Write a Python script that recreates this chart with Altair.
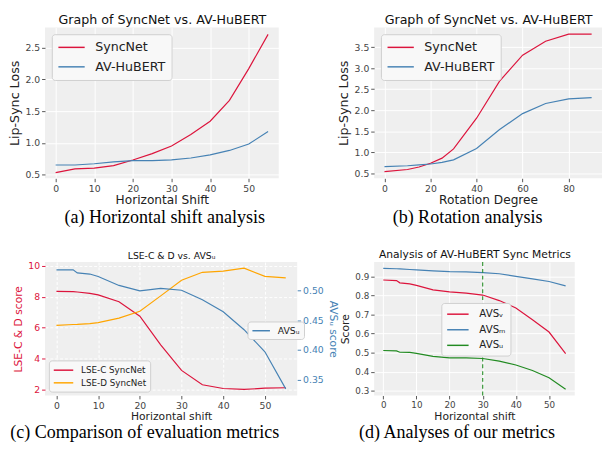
import altair as alt
import pandas as pd

# ---------------- data ----------------
# (a) horizontal shift
shift_a = [0, 5, 10, 15, 20, 25, 30, 35, 40, 45, 50, 55]
syncnet_a = [0.53, 0.59, 0.60, 0.64, 0.73, 0.83, 0.95, 1.13, 1.34, 1.67, 2.17, 2.71]
avhubert_a = [0.65, 0.65, 0.67, 0.70, 0.72, 0.72, 0.73, 0.76, 0.81, 0.88, 0.98, 1.18]

# (b) rotation
rot_b = [0, 10, 15, 20, 25, 30, 40, 50, 60, 70, 80, 90]
syncnet_b = [0.54, 0.59, 0.65, 0.74, 0.86, 1.08, 1.81, 2.69, 3.31, 3.64, 3.81, 3.81]
avhubert_b = [0.66, 0.68, 0.70, 0.72, 0.76, 0.82, 1.09, 1.54, 1.92, 2.16, 2.27, 2.30]

# (c) and (d) horizontal shift
shift_cd = [0, 4, 5, 8, 10, 15, 20, 25, 30, 35, 40, 45, 50, 55]
lse_c = [8.35, 8.33, 8.31, 8.22, 8.12, 7.68, 6.75, 4.90, 3.25, 2.32, 2.08, 2.02, 2.10, 2.13]
lse_d = [6.16, 6.21, 6.22, 6.27, 6.33, 6.62, 7.07, 8.06, 9.07, 9.58, 9.66, 9.85, 9.32, 9.22]
avs_U = [0.534, 0.534, 0.529, 0.527, 0.523, 0.508, 0.499, 0.503, 0.500, 0.484, 0.464, 0.434, 0.397, 0.335]

avs_v = [0.881, 0.878, 0.866, 0.861, 0.853, 0.829, 0.819, 0.812, 0.802, 0.773, 0.734, 0.672, 0.608, 0.495]
avs_m = [0.942, 0.940, 0.939, 0.936, 0.934, 0.929, 0.925, 0.924, 0.920, 0.914, 0.900, 0.887, 0.873, 0.850]
avs_u = [0.511, 0.509, 0.502, 0.501, 0.496, 0.480, 0.472, 0.472, 0.469, 0.455, 0.435, 0.406, 0.368, 0.308]
vline_d = [30]

names_ab = ["SyncNet", "AV-HuBERT"]
names_c = ["LSE-C SyncNet", "LSE-D SyncNet"]
name_cU = ["AVSᵤ"]
names_d = ["AVSᵥ", "AVSₘ", "AVSᵤ"]

titles = ["Graph of SyncNet vs. AV-HuBERT", "Graph of SyncNet vs. AV-HuBERT",
          "LSE-C & D vs. AVSᵤ", "Analysis of AV-HuBERT Sync Metrics"]
captions = ["(a) Horizontal shift analysis", "(b) Rotation analysis",
            "(c) Comparison of evaluation metrics", "(d) Analyses of our metrics"]

# ---------------- style ----------------
FONT = "DejaVu Sans"
SERIF = "Liberation Serif"
RED = "#dc143c"
BLUE = "#4682b4"
ORANGE = "#ffa500"
GREEN = "#228b22"
BG = "#efefef"


def melt(x, names, series):
    rows = []
    for name, vals in zip(names, series):
        for xi, yi in zip(x, vals):
            rows.append({"x": xi, "y": yi, "s": name})
    return pd.DataFrame(rows)


def ax(**kw):
    base = dict(domain=False, tickColor="#555", tickSize=3.5, tickWidth=1,
                labelColor="#444", labelFont=FONT, titleFont=FONT, titleColor="#222",
                titleFontWeight="normal", gridColor="white", gridWidth=1,
                labelPadding=2, labelFlush=False, labelOverlap=False)
    base.update(kw)
    return alt.Axis(**base)


def top_title(df, text, size, pad):
    return alt.Chart(df).mark_rule(opacity=0).encode(
        x=alt.X("x:Q", axis=alt.Axis(orient="top", title=text, labels=False, ticks=False,
                                     domain=False, grid=False, titleFont=FONT,
                                     titleFontSize=size, titleFontWeight="normal",
                                     titleColor="#111", titlePadding=pad)))


def caption(text, dx, offset):
    return alt.TitleParams(text=text, orient="bottom", anchor="middle", frame="group",
                           font=SERIF, fontSize=18.5, fontWeight="normal", color="#000",
                           dx=dx, offset=offset)


def legend(fs, unit, gap, rowpad, pad, **kw):
    return alt.Legend(title=None, fillColor="#f8f8f8", strokeColor="#cfcfcf", cornerRadius=3,
                      padding=pad, labelFont=FONT, labelFontSize=fs, labelColor="#222",
                      symbolType="M-1,0L3,0", symbolSize=unit * unit, symbolStrokeWidth=1.5,
                      labelOffset=unit + gap, rowPadding=rowpad, **kw)


SHIFT_DOM = [-2.75, 57.75]
ROT_DOM = [-4.5, 94.5]

# ---------------- panel a ----------------
dfa = melt(shift_a, names_ab, [syncnet_a, avhubert_a])
lines_a = alt.Chart(dfa).mark_line(strokeWidth=1.2).encode(
    x=alt.X("x:Q", scale=alt.Scale(domain=SHIFT_DOM, nice=False, zero=False),
            axis=ax(values=[0, 10, 20, 30, 40, 50], title="Horizontal Shift",
                    labelFontSize=9.5, titleFontSize=12.5, titlePadding=1)),
    y=alt.Y("y:Q", scale=alt.Scale(domain=[0.44, 2.82], nice=False, zero=False),
            axis=ax(values=[0.5, 1.0, 1.5, 2.0, 2.5], format=".1f", title="Lip-Sync Loss",
                    labelFontSize=9.5, titleFontSize=13, titlePadding=4)),
    color=alt.Color("s:N", scale=alt.Scale(domain=names_ab, range=[RED, BLUE]),
                    legend=legend(13, 13.5, 10, 5, 6, orient="top-left", offset=7)),
)
panel_a = alt.layer(lines_a, top_title(dfa, titles[0], 13, 1)).resolve_axis(
    x="independent").properties(width=240, height=155, title=caption(captions[0], 3, 2))

# ---------------- panel b ----------------
dfb = melt(rot_b, names_ab, [syncnet_b, avhubert_b])
lines_b = alt.Chart(dfb).mark_line(strokeWidth=1.2).encode(
    x=alt.X("x:Q", scale=alt.Scale(domain=ROT_DOM, nice=False, zero=False),
            axis=ax(values=[0, 20, 40, 60, 80], title="Rotation Degree",
                    labelFontSize=9.5, titleFontSize=12.5, titlePadding=1)),
    y=alt.Y("y:Q", scale=alt.Scale(domain=[0.38, 3.97], nice=False, zero=False),
            axis=ax(values=[0.5, 1.0, 1.5, 2.0, 2.5, 3.0, 3.5], format=".1f",
                    title="Lip-Sync Loss", labelFontSize=9.5, titleFontSize=13, titlePadding=4)),
    color=alt.Color("s:N", scale=alt.Scale(domain=names_ab, range=[RED, BLUE]),
                    legend=legend(13, 13.5, 10, 5, 6, orient="top-left", offset=7)),
)
panel_b = alt.layer(lines_b, top_title(dfb, titles[1], 13, 1)).resolve_axis(
    x="independent").properties(width=234, height=155, title=caption(captions[1], -21, 2))

# ---------------- panel c ----------------
dfc = melt(shift_cd, names_c, [lse_c, lse_d])
dfcu = melt(shift_cd, name_cU, [avs_U])
lines_c = alt.Chart(dfc).mark_line(strokeWidth=1.2).encode(
    x=alt.X("x:Q", scale=alt.Scale(domain=SHIFT_DOM, nice=False, zero=False),
            axis=ax(values=[0, 10, 20, 30, 40, 50], title="Horizontal shift",
                    labelFontSize=9.5, titleFontSize=11, titlePadding=1, gridDash=[3, 2])),
    y=alt.Y("y:Q", scale=alt.Scale(domain=[1.63, 10.24], nice=False, zero=False),
            axis=ax(values=[2, 4, 6, 8, 10], format="d", title="LSE-C & D score",
                    labelFontSize=9.5, titleFontSize=11, titlePadding=5, gridDash=[3, 2],
                    labelColor=RED, tickColor=RED, titleColor=RED)),
    color=alt.Color("s:N", scale=alt.Scale(domain=names_c, range=[RED, ORANGE]),
                    legend=legend(9, 10, 7, 2, 4, orient="bottom-left", offset=4)),
)
line_cu = alt.Chart(dfcu).mark_line(strokeWidth=1.2).encode(
    x=alt.X("x:Q", axis=None),
    y=alt.Y("y:Q", scale=alt.Scale(domain=[0.324, 0.547], nice=False, zero=False),
            axis=ax(orient="right", values=[0.35, 0.40, 0.45, 0.50], format=".2f",
                    title="AVSᵤ score", labelFontSize=9.5, titleFontSize=11, titlePadding=5,
                    grid=False, labelColor=BLUE, tickColor=BLUE, titleColor=BLUE)),
    color=alt.Color("s:N", scale=alt.Scale(domain=name_cU, range=[BLUE]),
                    legend=legend(9.5, 9, 7, 2, 4, orient="none", legendX=208, legendY=61)),
)
panel_c = alt.layer(lines_c, line_cu, top_title(dfc, titles[2], 9.5, 2)).resolve_scale(
    y="independent", color="independent").resolve_axis(x="independent").properties(
    width=259, height=137, title=caption(captions[2], -27, 2))

# ---------------- panel d ----------------
dfd = melt(shift_cd, names_d, [avs_v, avs_m, avs_u])
lines_d = alt.Chart(dfd).mark_line(strokeWidth=1.2).encode(
    x=alt.X("x:Q", scale=alt.Scale(domain=SHIFT_DOM, nice=False, zero=False),
            axis=ax(values=[0, 10, 20, 30, 40, 50], title="Horizontal shift",
                    labelFontSize=9, titleFontSize=11, titlePadding=1)),
    y=alt.Y("y:Q", scale=alt.Scale(domain=[0.275, 0.975], nice=False, zero=False),
            axis=ax(values=[0.3, 0.4, 0.5, 0.6, 0.7, 0.8, 0.9], format=".1f", title="Score",
                    labelFontSize=9, titleFontSize=11, titlePadding=5)),
    color=alt.Color("s:N", scale=alt.Scale(domain=names_d, range=[RED, BLUE, GREEN]),
                    legend=legend(10.5, 11, 10, 4, 5, orient="none", legendX=69, legendY=42)),
)
rule_d = alt.Chart(pd.DataFrame({"x": vline_d})).mark_rule(
    color=GREEN, strokeDash=[4, 3], strokeWidth=1.1).encode(
    x=alt.X("x:Q", axis=alt.Axis(orient="top", title=titles[3], labels=False, ticks=False,
                                 domain=False, grid=False, titleFont=FONT, titleFontSize=11,
                                 titleFontWeight="normal", titleColor="#111", titlePadding=3)))
panel_d = alt.layer(lines_d, rule_d).resolve_axis(x="independent").properties(
    width=206, height=137, title=caption(captions[3], -18, 2))

chart = alt.concat(
    panel_a, panel_b, panel_c, panel_d, columns=2,
    spacing={"row": 86, "column": 79}, bounds="flush", align="none",
).resolve_scale(color="independent").properties(padding=0).configure(
    font=FONT).configure_view(fill=BG, stroke=None)

chart.save("out.html", embed_options={"renderer": "svg", "actions": False})
